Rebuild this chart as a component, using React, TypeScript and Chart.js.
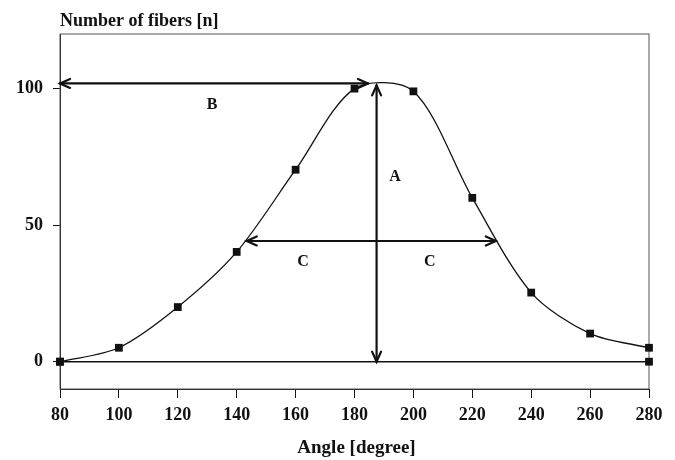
import React, { useEffect, useRef } from "react";
import { Chart, registerables } from "chart.js";

Chart.register(...registerables);

// ---- data ----
const angles = [80, 100, 120, 140, 160, 180, 200, 220, 240, 260, 280];
const fibers = [0, 5.1, 20, 40.2, 70.3, 100, 99, 60, 25.3, 10.3, 5.1];
const baselineAngles = [80, 280];
const baselineValues = [0, 0];
const yTickValues = [0, 50, 100];
const yTitle = "Number of fibers [n]";
const xTitle = "Angle [degree]";

// annotation arrows (data units): [x1, y1, x2, y2]
const arrowA = [187.5, 0, 187.5, 101.2];
const arrowB = [80, 101.9, 184.6, 101.9];
const arrowC = [143.4, 44.2, 228, 44.2];
const labelTexts = ["A", "B", "C", "C"];
const labelX = [193.8, 131.6, 162.5, 205.6];
const labelY = [67.8, 94, 36.6, 36.6];

const FONT = '"Liberation Serif", "Times New Roman", serif';
const INK = "#111";

function drawArrow(ctx: CanvasRenderingContext2D, x1: number, y1: number, x2: number, y2: number) {
  ctx.beginPath();
  ctx.moveTo(x1, y1);
  ctx.lineTo(x2, y2);
  ctx.stroke();
  const heads: [number, number, number, number][] = [
    [x1, y1, x2, y2],
    [x2, y2, x1, y1],
  ];
  const len = 11;
  const spread = 0.42;
  for (const [tx, ty, fx, fy] of heads) {
    const ang = Math.atan2(ty - fy, tx - fx);
    ctx.beginPath();
    ctx.moveTo(tx - len * Math.cos(ang - spread), ty - len * Math.sin(ang - spread));
    ctx.lineTo(tx, ty);
    ctx.lineTo(tx - len * Math.cos(ang + spread), ty - len * Math.sin(ang + spread));
    ctx.stroke();
  }
}

const annotationPlugin = {
  id: "annotations",
  beforeDatasetsDraw(chart: any) {
    const { ctx, chartArea } = chart;
    ctx.save();
    ctx.strokeStyle = "#555";
    ctx.lineWidth = 1;
    ctx.strokeRect(chartArea.left, chartArea.top, chartArea.right - chartArea.left, chartArea.bottom - chartArea.top);
    ctx.restore();
  },
  afterDatasetsDraw(chart: any) {
    const { ctx, scales, chartArea } = chart;
    const xs = scales.x;
    const ys = scales.y;
    ctx.save();
    ctx.strokeStyle = INK;
    ctx.lineWidth = 2.2;
    ctx.lineCap = "round";
    ctx.lineJoin = "miter";
    for (const a of [arrowA, arrowB, arrowC]) {
      drawArrow(
        ctx,
        xs.getPixelForValue(a[0]),
        ys.getPixelForValue(a[1]),
        xs.getPixelForValue(a[2]),
        ys.getPixelForValue(a[3])
      );
    }
    ctx.fillStyle = INK;
    ctx.font = `bold 16px ${FONT}`;
    ctx.textAlign = "center";
    ctx.textBaseline = "middle";
    labelTexts.forEach((t, i) => {
      ctx.fillText(t, xs.getPixelForValue(labelX[i]), ys.getPixelForValue(labelY[i]));
    });
    // y axis title, top-left
    ctx.font = `bold 18px ${FONT}`;
    ctx.textAlign = "left";
    ctx.textBaseline = "alphabetic";
    ctx.fillText(yTitle, chartArea.left, 26);
    // x axis title, below the tick labels
    ctx.font = `bold 19px ${FONT}`;
    ctx.textAlign = "center";
    ctx.textBaseline = "alphabetic";
    ctx.fillText(xTitle, (chartArea.left + chartArea.right) / 2 + 2, 453);
    ctx.restore();
  },
};

export default function App() {
  const canvasRef = useRef<HTMLCanvasElement | null>(null);

  useEffect(() => {
    const canvas = canvasRef.current;
    if (!canvas) return;
    const chart = new Chart(canvas, {
      type: "line",
      data: {
        datasets: [
          {
            label: "fibers",
            data: angles.map((a, i) => ({ x: a, y: fibers[i] })),
            borderColor: INK,
            borderWidth: 1.3,
            tension: 0.3,
            pointStyle: "rect",
            pointRadius: 5.5,
            pointBorderWidth: 0,
            pointBackgroundColor: INK,
            clip: false as any,
          },
          {
            label: "zero",
            data: baselineAngles.map((a, i) => ({ x: a, y: baselineValues[i] })),
            borderColor: INK,
            borderWidth: 1.6,
            tension: 0,
            pointStyle: "rect",
            pointRadius: 5.5,
            pointBorderWidth: 0,
            pointBackgroundColor: INK,
            clip: false as any,
          },
        ],
      },
      options: {
        responsive: false,
        animation: false,
        devicePixelRatio: 1,
        layout: { padding: { left: 0, top: 34, right: 26, bottom: 0 } },
        plugins: {
          legend: { display: false },
          tooltip: { enabled: false },
          title: { display: false },
        },
        scales: {
          x: {
            type: "linear",
            min: 80,
            max: 280,
            ticks: {
              stepSize: 20,
              color: INK,
              font: { family: FONT, size: 18, weight: "bold" },
              padding: 7,
              maxRotation: 0,
            },
            grid: { drawOnChartArea: false, drawTicks: true, tickLength: 9, color: INK },
            border: { display: true, color: INK, width: 1 },
            afterFit(scale: any) {
              scale.height = 71;
            },
          },
          y: {
            type: "linear",
            min: -10,
            max: 120,
            afterBuildTicks(scale: any) {
              scale.ticks = yTickValues.map((v) => ({ value: v }));
            },
            ticks: {
              color: INK,
              font: { family: FONT, size: 18, weight: "bold" },
              padding: 10,
            },
            grid: { drawOnChartArea: false, drawTicks: true, tickLength: 7, color: INK },
            border: { display: true, color: INK, width: 1 },
            afterFit(scale: any) {
              scale.width = 60;
            },
          },
        },
      },
      plugins: [annotationPlugin],
    });
    return () => chart.destroy();
  }, []);

  return (
    <div style={{ position: "fixed", left: 0, top: 0, width: 675, height: 460, background: "#fff" }}>
      <canvas ref={canvasRef} width={675} height={460} style={{ width: 675, height: 460, display: "block" }} />
    </div>
  );
}
